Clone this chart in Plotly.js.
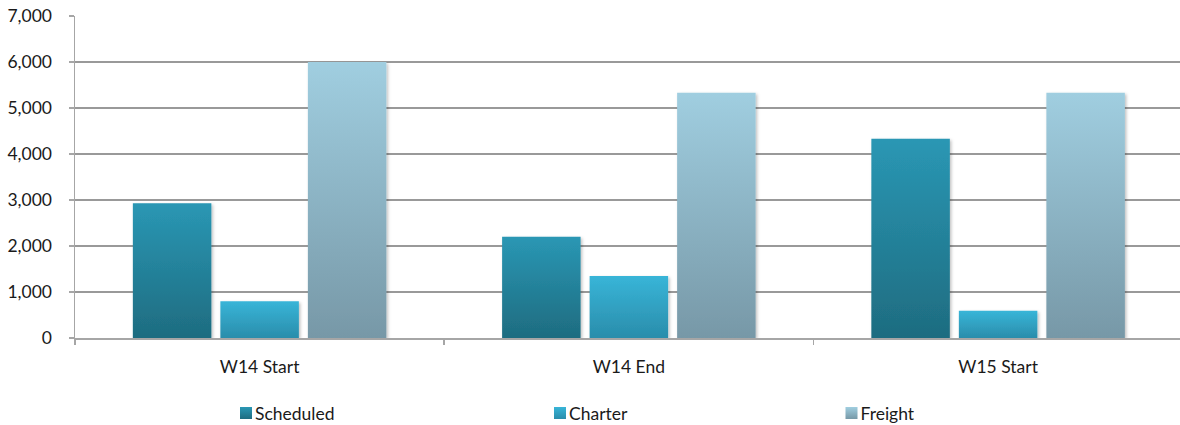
<!DOCTYPE html>
<html><head><meta charset="utf-8">
<script src="https://cdn.plot.ly/plotly-3.0.1.min.js"></script>
<style>body{margin:0;background:#fff}#c{width:1180px;height:425px}</style>
</head><body><div id="c"></div>
<script>
const categories = ["W14 Start", "W14 End", "W15 Start"];
const scheduled = [2930, 2200, 4330];
const charter = [800, 1350, 590];
const freight = [6000, 5330, 5330];
const seriesNames = ["Scheduled", "Charter", "Freight"];
const yTicks = [0, 1000, 2000, 3000, 4000, 5000, 6000, 7000];

const grads = [
  ["#2A97B4", "#1E6C80"],
  ["#38B5D8", "#2A8DAB"],
  ["#A0CEE0", "#7798A7"]
];
const font = {family: "Lato, 'Open Sans', sans-serif", size: 17.5, color: "#1a1a1a"};
const series = [scheduled, charter, freight];
const legendNames = ["legend", "legend2", "legend3"];
const legendCenters = [246, 560, 851.5];
const legendY = 413;
const traces = series.map((vals, i) => ({
  type: "bar", name: seriesNames[i], x: categories, y: vals,
  marker: {color: grads[i][1], line: {width: 0}},
  legend: legendNames[i], hoverinfo: "skip"
}));
const legStyle = (x) => ({x: x, xref: "paper", y: 0.03, yref: "container", xanchor: "left", yanchor: "middle",
  orientation: "h", font: font, bgcolor: "rgba(0,0,0,0)", itemwidth: 30});
const layout = {
  width: 1180, height: 425,
  margin: {l: 75, r: 0, t: 16, b: 87, autoexpand: false},
  paper_bgcolor: "#fff", plot_bgcolor: "#fff",
  barmode: "group", bargap: 0.289, bargroupgap: 0.103,
  font: font,
  xaxis: {type: "category", range: [-0.5, 2.4926], tickson: "boundaries", ticks: "outside", ticklen: 5, tickcolor: "#a6a6a6",
    tickwidth: 1.5, ticklabelstandoff: 12,
    showline: true, linecolor: "#a6a6a6", linewidth: 1.5, showgrid: false, tickfont: font, fixedrange: true},
  yaxis: {range: [0, 7000], tickvals: yTicks, tickformat: ",d", ticks: "outside", ticklen: 5, tickcolor: "#a6a6a6",
    tickwidth: 1.5, ticklabelstandoff: 13,
    showline: true, linecolor: "#a6a6a6", linewidth: 1.5, gridcolor: "#999999", gridwidth: 1.5,
    zeroline: false, tickfont: font, fixedrange: true},
  showlegend: true,
  legend: legStyle(0.143),
  legend2: legStyle(0.425),
  legend3: legStyle(0.682)
};
Plotly.newPlot("c", traces, layout, {displayModeBar: false, staticPlot: true}).then(gd => {
  const svg = gd.querySelector("svg.main-svg");
  const ns = "http://www.w3.org/2000/svg";
  let defs = svg.querySelector("defs");
  grads.forEach((g, i) => {
    const lg = document.createElementNS(ns, "linearGradient");
    lg.setAttribute("id", "bg" + i);
    lg.setAttribute("x1", "0"); lg.setAttribute("y1", "0");
    lg.setAttribute("x2", "0"); lg.setAttribute("y2", "1");
    [[0, g[0]], [1, g[1]]].forEach(([o, c]) => {
      const s = document.createElementNS(ns, "stop");
      s.setAttribute("offset", o); s.setAttribute("stop-color", c);
      lg.appendChild(s);
    });
    defs.appendChild(lg);
  });
  const f = document.createElementNS(ns, "filter");
  f.setAttribute("id", "shd"); f.setAttribute("x", "-10%"); f.setAttribute("y", "-10%");
  f.setAttribute("width", "130%"); f.setAttribute("height", "130%");
  f.innerHTML = '<feDropShadow dx="1.5" dy="1.5" stdDeviation="1.5" flood-color="#000" flood-opacity="0.25"/>';
  defs.appendChild(f);
  gd.querySelectorAll(".barlayer .trace").forEach((t, i) => {
    t.querySelectorAll("path").forEach(p => {
      p.style.fill = "url(#bg" + i + ")";
      p.style.filter = "url(#shd)";
    });
  });
  legendNames.forEach((ln, i) => {
    const el = gd.querySelector(".infolayer > g." + ln);
    if (!el) return;
    const sym = Array.from(el.querySelectorAll("g.traces path")).find(p => (p.getAttribute("d") || "").length > 0);
    const txt = el.querySelector("g.traces text");
    if (!sym || !txt) return;
    sym.style.fill = "url(#bg" + i + ")";
    const rS = sym.getBoundingClientRect();
    const rT = txt.getBoundingClientRect();
    txt.setAttribute("x", parseFloat(txt.getAttribute("x") || 0) - (rT.left - (rS.right + 3)));
    const dx = legendCenters[i] - (rS.left + rS.right) / 2;
    const dy = legendY - (rS.top + rS.bottom) / 2;
    el.setAttribute("transform", (el.getAttribute("transform") || "") + " translate(" + dx + "," + dy + ")");
  });
});
</script></body></html>
